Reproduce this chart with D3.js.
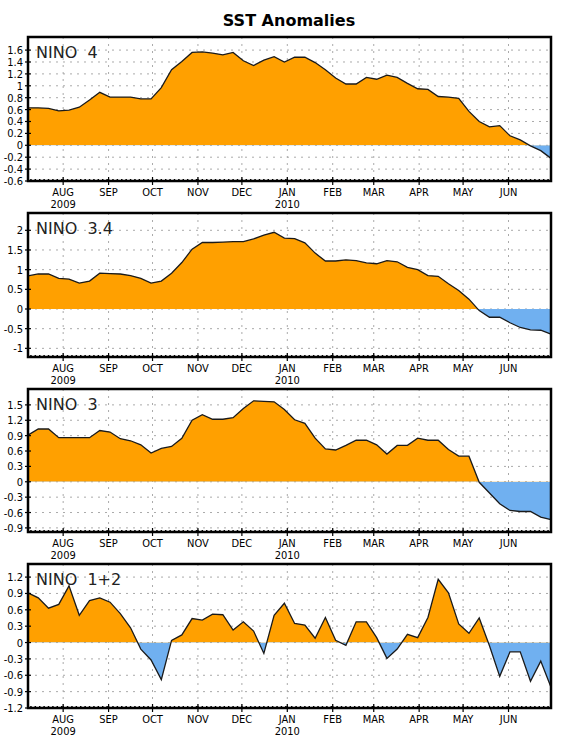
<!DOCTYPE html>
<html>
<head>
<meta charset="utf-8">
<script src="https://cdn.jsdelivr.net/npm/d3@7"></script>
<style>
  body { margin: 0; background: #fff; }
  text { font-family: "DejaVu Sans Condensed", "DejaVu Sans", sans-serif; }
</style>
</head>
<body>
<svg width="572" height="742"></svg>
<script>
// weekly SST anomalies, Jul 8 2009 .. Jun 30 2010 (52 weeks)
var startWeek = new Date(2009, 6, 8);

var nino4 = [0.63, 0.63, 0.62, 0.58, 0.59, 0.64, 0.76, 0.89, 0.81, 0.81, 0.81, 0.78, 0.78,
  0.97, 1.27, 1.41, 1.56, 1.57, 1.55, 1.52, 1.56, 1.42, 1.34, 1.43, 1.49, 1.40, 1.48,
  1.48, 1.39, 1.27, 1.13, 1.03, 1.03, 1.14, 1.11, 1.18, 1.14, 1.04, 0.95, 0.94, 0.82,
  0.81, 0.79, 0.57, 0.40, 0.31, 0.33, 0.16, 0.09, -0.01, -0.09, -0.22];

var nino34 = [0.84, 0.89, 0.89, 0.78, 0.76, 0.66, 0.71, 0.91, 0.90, 0.89, 0.85, 0.78, 0.66,
  0.71, 0.91, 1.18, 1.52, 1.69, 1.69, 1.70, 1.71, 1.71, 1.78, 1.88, 1.95, 1.80, 1.79,
  1.68, 1.42, 1.22, 1.22, 1.25, 1.23, 1.17, 1.15, 1.23, 1.20, 1.06, 1.00, 0.85, 0.83,
  0.64, 0.47, 0.25, -0.04, -0.21, -0.21, -0.35, -0.47, -0.53, -0.54, -0.64];

var nino3 = [0.91, 1.03, 1.03, 0.86, 0.86, 0.86, 0.86, 1.00, 0.97, 0.84, 0.80, 0.72, 0.56,
  0.65, 0.69, 0.85, 1.20, 1.31, 1.22, 1.22, 1.25, 1.43, 1.58, 1.57, 1.56, 1.41, 1.21,
  1.14, 0.85, 0.64, 0.62, 0.71, 0.81, 0.81, 0.72, 0.54, 0.71, 0.71, 0.85, 0.81, 0.81,
  0.63, 0.50, 0.50, -0.01, -0.22, -0.43, -0.56, -0.58, -0.58, -0.69, -0.74];

var nino12 = [0.91, 0.82, 0.63, 0.70, 1.04, 0.50, 0.77, 0.82, 0.74, 0.53, 0.27, -0.12, -0.32,
  -0.68, 0.04, 0.14, 0.44, 0.41, 0.52, 0.51, 0.23, 0.38, 0.21, -0.20, 0.50, 0.72, 0.35,
  0.32, 0.08, 0.46, 0.04, -0.05, 0.38, 0.38, 0.09, -0.29, -0.12, 0.15, 0.09, 0.46, 1.16,
  0.91, 0.34, 0.17, 0.45, -0.06, -0.62, -0.17, -0.17, -0.71, -0.34, -0.82];

var ticks4 = [-0.6, -0.4, -0.2, 0, 0.2, 0.4, 0.6, 0.8, 1, 1.2, 1.4, 1.6];
var ticks34 = [-1, -0.5, 0, 0.5, 1, 1.5, 2];
var ticks3 = [-0.9, -0.6, -0.3, 0, 0.3, 0.6, 0.9, 1.2, 1.5];
var ticks12 = [-1.2, -0.9, -0.6, -0.3, 0, 0.3, 0.6, 0.9, 1.2];

var monthNames = ["JAN", "FEB", "MAR", "APR", "MAY", "JUN", "JUL", "AUG", "SEP", "OCT", "NOV", "DEC"];

var panels = [
  {name: "NINO  4",   values: nino4,  ticks: ticks4,  top: 37,  bottom: 181, ymin: -0.6,  ymax: 1.82},
  {name: "NINO  3.4", values: nino34, ticks: ticks34, top: 213, bottom: 357, ymin: -1.22, ymax: 2.44},
  {name: "NINO  3",   values: nino3,  ticks: ticks3,  top: 389, bottom: 532, ymin: -0.98, ymax: 1.81},
  {name: "NINO  1+2", values: nino12, ticks: ticks12, top: 564, bottom: 708, ymin: -1.2,  ymax: 1.44}
];

var orange = "#ffa000", blue = "#70b0f0";
var left = 28, right = 551;

var svg = d3.select("svg");

svg.append("text")
  .attr("x", 289).attr("y", 26)
  .attr("text-anchor", "middle")
  .style("font-family", "'DejaVu Sans', sans-serif")
  .style("font-weight", "bold")
  .style("font-size", "16px")
  .text("SST Anomalies");

var dates = panels[0].values.map(function(d, i) { return d3.timeDay.offset(startWeek, 7 * i); });

var x = d3.scaleTime()
  .domain([dates[0], dates[dates.length - 1]])
  .range([left, right]);

var months = d3.timeMonth.range(new Date(2009, 7, 1), new Date(2010, 6, 1));
var minor = d3.timeDay.every(3).range(dates[0], dates[dates.length - 1]);

panels.forEach(function(p, k) {
  var g = svg.append("g");

  var y = d3.scaleLinear()
    .domain([p.ymin, p.ymax])
    .range([p.bottom, p.top]);

  // dotted grid
  g.selectAll(".hg").data(p.ticks).enter().append("line")
    .attr("x1", left).attr("x2", right)
    .attr("y1", function(d) { return y(d); })
    .attr("y2", function(d) { return y(d); })
    .attr("stroke", "#aaa").attr("stroke-width", 1)
    .attr("stroke-dasharray", "2,5");

  g.selectAll(".vg").data(months).enter().append("line")
    .attr("x1", function(d) { return x(d); })
    .attr("x2", function(d) { return x(d); })
    .attr("y1", p.top).attr("y2", p.bottom)
    .attr("stroke", "#aaa").attr("stroke-width", 1)
    .attr("stroke-dasharray", "2,5");

  // split fill at zero
  var clipUp = "up" + k, clipDn = "dn" + k;
  var defs = g.append("defs");
  defs.append("clipPath").attr("id", clipUp).append("rect")
    .attr("x", left).attr("y", p.top).attr("width", right - left).attr("height", y(0) - p.top);
  defs.append("clipPath").attr("id", clipDn).append("rect")
    .attr("x", left).attr("y", y(0)).attr("width", right - left).attr("height", p.bottom - y(0));

  var area = d3.area()
    .x(function(d, i) { return x(dates[i]); })
    .y0(y(0))
    .y1(function(d) { return y(d); });

  g.append("path").datum(p.values)
    .attr("d", area).attr("fill", orange)
    .attr("clip-path", "url(#" + clipUp + ")");
  g.append("path").datum(p.values)
    .attr("d", area).attr("fill", blue)
    .attr("clip-path", "url(#" + clipDn + ")");

  var line = d3.line()
    .x(function(d, i) { return x(dates[i]); })
    .y(function(d) { return y(d); });

  g.append("path").datum(p.values)
    .attr("d", line)
    .attr("fill", "none")
    .attr("stroke", "#1a1a1a")
    .attr("stroke-width", 1.3);

  // ticks on the frame
  g.selectAll(".mt").data(minor).enter().append("line")
    .attr("x1", function(d) { return x(d); })
    .attr("x2", function(d) { return x(d); })
    .attr("y1", p.bottom - 2).attr("y2", p.bottom + 1)
    .attr("stroke", "#000").attr("stroke-width", 1.5);

  g.selectAll(".Mt").data(months).enter().append("line")
    .attr("x1", function(d) { return x(d); })
    .attr("x2", function(d) { return x(d); })
    .attr("y1", p.bottom - 4).attr("y2", p.bottom + 4)
    .attr("stroke", "#000").attr("stroke-width", 1.2);

  g.selectAll(".yt").data(p.ticks).enter().append("line")
    .attr("x1", left - 3).attr("x2", left + 3)
    .attr("y1", function(d) { return y(d); })
    .attr("y2", function(d) { return y(d); })
    .attr("stroke", "#000").attr("stroke-width", 1.2);

  g.append("rect")
    .attr("x", left).attr("y", p.top)
    .attr("width", right - left).attr("height", p.bottom - p.top)
    .attr("fill", "none").attr("stroke", "#000").attr("stroke-width", 2.5);

  // labels
  g.selectAll(".yl").data(p.ticks).enter().append("text")
    .attr("x", 23)
    .attr("y", function(d) { return y(d) + 4; })
    .attr("text-anchor", "end")
    .style("font-size", "11px")
    .text(function(d) { return String(d); });

  g.selectAll(".ml").data(months).enter().append("text")
    .attr("x", function(d) { return x(d); })
    .attr("y", p.bottom + 15)
    .attr("text-anchor", "middle")
    .style("font-size", "11px")
    .text(function(d) { return monthNames[d.getMonth()]; });

  g.selectAll(".yr").data(months.filter(function(d) { return d.getMonth() === 7 || d.getMonth() === 0; }))
    .enter().append("text")
    .attr("x", function(d) { return x(d); })
    .attr("y", p.bottom + 27)
    .attr("text-anchor", "middle")
    .style("font-size", "11px")
    .text(function(d) { return d.getFullYear(); });

  g.append("text")
    .attr("x", 36).attr("y", p.top + 21)
    .attr("xml:space", "preserve")
    .style("white-space", "pre")
    .style("font-family", "'DejaVu Sans', sans-serif")
    .style("font-size", "16px")
    .attr("fill", "#222")
    .text(p.name);
});
</script>
</body>
</html>
